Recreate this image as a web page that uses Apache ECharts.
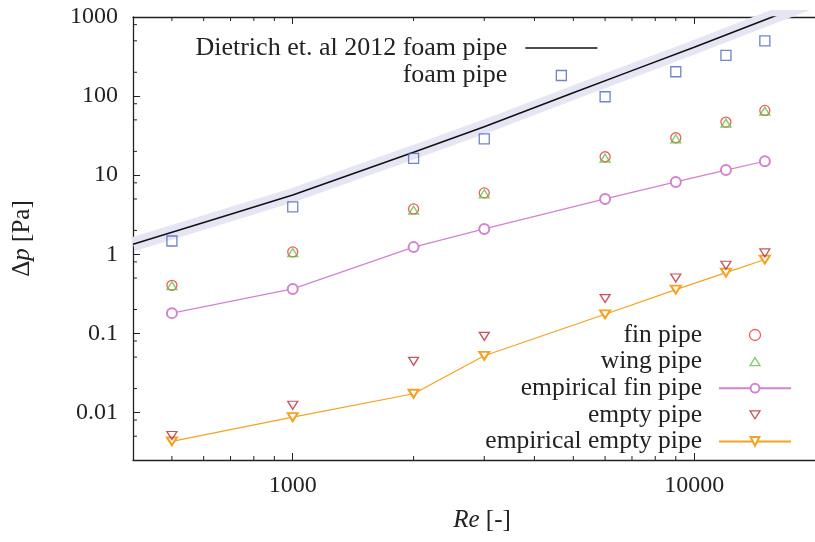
<!DOCTYPE html>
<html>
<head>
<meta charset="utf-8">
<script src="https://cdn.jsdelivr.net/npm/echarts@6/dist/echarts.min.js"></script>
<style>
  html, body { margin: 0; padding: 0; background: #fff; }
  #chart { width: 815px; height: 542px; }
</style>
</head>
<body>
<div id="chart"></div>
<script>
// Re values where the pipes were measured
const reValues = [500, 1000, 2000, 3000, 6000, 9000, 12000, 15000]

// pressure drop [Pa]
const foamPipe = [1.47, 3.97, 16.3, 28.8, 98, 203, 327, 500]
const finPipe = [0.405, 1.07, 3.74, 5.97, 17.1, 29.7, 46.9, 65.9]
const wingPipe = [0.40, 1.05, 3.6, 5.8, 16.4, 28.8, 45.5, 64.5]
const empiricalFin = [0.18, 0.364, 1.23, 2.09, 5.01, 8.22, 11.6, 15.0]
const emptyPipe = [0.0051, 0.0123, 0.0442, 0.0916, 0.275, 0.50, 0.726, 1.04]
const empiricalEmpty = [0.0043, 0.0087, 0.0172, 0.052, 0.174, 0.357, 0.586, 0.857]

// correlation curve
const dietrichRe = [400, 700, 1000, 2000, 3000, 5000, 7000, 10000, 15650, 20000]
const dietrich = [1.34, 3.2, 5.6, 19.5, 41, 110, 210, 415, 1000, 1610]

// minor tick positions
const xMinorTicks = [500, 600, 700, 800, 900, 2000, 3000, 4000, 5000, 6000, 7000, 8000, 9000]
const yMinorTicks = [0.005, 0.008, 0.02, 0.05, 0.08, 0.2, 0.5, 0.8, 2, 5, 8, 20, 50, 80, 200, 500, 800]

const FONT = 'Liberation Serif'
const AXIS_COLOR = '#222'
const X_MIN = 400, X_MAX = 20000, Y_MIN = 0.0025, Y_MAX = 1000

// legend glyphs (leading moves pin the icon box so the marker stays small)
const ICON_LINE = 'path://M0,0H72V1.5H0Z'
const ICON_SQUARE_TOP = 'path://M0,0M72,10M31,0H41V10H31Z'
const ICON_TRIANGLE = 'path://M0,0M72,11M36,1.5L41,9.5H31Z'
const ICON_TRIANGLE_DOWN = 'path://M0,0M72,11M31,1.5H41L36,9.5Z'

const pairs = (xs, ys) => xs.map((x, i) => [x, ys[i]])
const fmt = v => String(+(+v).toPrecision(3))

const chart = echarts.init(document.getElementById('chart'))

const hollow = (color) => ({ color: 'rgba(0,0,0,0)', borderColor: color, borderWidth: 1.3 })

const legendText = {
  fontFamily: FONT,
  fontSize: 25.5,
  color: '#222',
  lineHeight: 25,
  padding: [0, 11, 0, 0]
}

const option = {
  animation: false,
  backgroundColor: '#fff',
  grid: { left: 133, top: 17, right: -8, bottom: 82, containLabel: false },
  legend: [
    {
      data: [
        { name: 'Dietrich et. al 2012 foam pipe', icon: ICON_LINE },
        { name: 'foam pipe', icon: ICON_SQUARE_TOP }
      ],
      orient: 'vertical',
      align: 'right',
      right: 217,
      top: 35,
      padding: 0,
      itemWidth: 72,
      itemHeight: 10,
      itemGap: 1.5,
      itemStyle: { borderWidth: 1.3 },
      selectedMode: false,
      textStyle: Object.assign({}, legendText, { fontSize: 26, padding: [0, 13, 0, 0] })
    },
    {
      data: [
        'fin pipe',
        { name: 'wing pipe', icon: ICON_TRIANGLE },
        'empirical fin pipe',
        { name: 'empty pipe', icon: ICON_TRIANGLE_DOWN },
        'empirical empty pipe'
      ],
      orient: 'vertical',
      align: 'right',
      right: 23,
      top: 322,
      padding: 0,
      itemWidth: 72,
      itemHeight: 11,
      itemGap: 0.6,
      itemStyle: { borderWidth: 1.3 },
      selectedMode: false,
      textStyle: Object.assign({}, legendText, { padding: [0, 12, 0, 0] })
    }
  ],
  xAxis: [
    {
      type: 'log',
      min: X_MIN,
      max: X_MAX,
      name: '{i|Re} [-]',
      nameLocation: 'middle',
      nameGap: 48,
      nameTextStyle: {
        fontFamily: FONT, fontSize: 25, color: '#222', padding: [0, 0, 0, 16],
        rich: { i: { fontFamily: FONT, fontSize: 25, fontStyle: 'italic', color: '#222' } }
      },
      axisLine: { lineStyle: { color: AXIS_COLOR, width: 1.3 } },
      axisTick: { inside: true, length: 7, lineStyle: { color: AXIS_COLOR, width: 1 } },
      axisLabel: {
        fontFamily: FONT, fontSize: 24, color: '#222', margin: 14,
        showMinLabel: false, showMaxLabel: false,
        formatter: fmt
      },
      splitLine: { show: false },
      minorTick: { show: false }
    },
    {
      type: 'log',
      position: 'top',
      min: X_MIN,
      max: X_MAX,
      axisLine: { lineStyle: { color: AXIS_COLOR, width: 1.3 } },
      axisTick: { inside: true, length: 7, lineStyle: { color: AXIS_COLOR, width: 1 } },
      axisLabel: { show: false },
      splitLine: { show: false }
    }
  ],
  yAxis: {
    type: 'log',
    min: Y_MIN,
    max: Y_MAX,
    name: '{d|Δ}{i|p} [Pa]',
    nameLocation: 'middle',
    nameRotate: 90,
    nameGap: 98,
    nameTextStyle: {
      fontFamily: FONT, fontSize: 25, color: '#222',
      rich: {
        d: { fontFamily: FONT, fontSize: 25, color: '#222' },
        i: { fontFamily: FONT, fontSize: 25, fontStyle: 'italic', color: '#222' }
      }
    },
    axisLine: { lineStyle: { color: AXIS_COLOR, width: 1.3 } },
    axisTick: { inside: true, length: 7, lineStyle: { color: AXIS_COLOR, width: 1 } },
    axisLabel: {
      fontFamily: FONT, fontSize: 24, color: '#222', margin: 15,
      showMinLabel: false,
      formatter: fmt
    },
    splitLine: { show: false }
  },
  series: [
    {
      name: 'band',
      type: 'line',
      data: pairs(dietrichRe, dietrich),
      symbol: 'none',
      lineStyle: { color: '#e5e5f4', width: 14 },
      z: 1,
      silent: true
    },
    {
      name: 'Dietrich et. al 2012 foam pipe',
      type: 'line',
      data: pairs(dietrichRe, dietrich),
      symbol: 'none',
      color: '#111',
      lineStyle: { color: '#111', width: 1.5 },
      z: 2
    },
    {
      name: 'foam pipe',
      type: 'scatter',
      data: pairs(reValues, foamPipe),
      symbol: 'rect',
      symbolSize: 10,
      itemStyle: hollow('#4a66ba'),
      z: 4
    },
    {
      name: 'fin pipe',
      type: 'scatter',
      data: pairs(reValues, finPipe),
      symbol: 'circle',
      symbolSize: 10,
      itemStyle: hollow('#ee3535'),
      z: 4
    },
    {
      name: 'wing pipe',
      type: 'scatter',
      data: pairs(reValues, wingPipe),
      symbol: 'triangle',
      symbolSize: [10, 8],
      itemStyle: hollow('#5fbf45'),
      z: 4
    },
    {
      name: 'empirical fin pipe',
      type: 'line',
      data: pairs(reValues, empiricalFin),
      symbol: 'emptyCircle',
      symbolSize: 10,
      color: '#d283cd',
      lineStyle: { color: '#d283cd', width: 1.2 },
      itemStyle: { borderWidth: 1.2 },
      z: 3
    },
    {
      name: 'empty pipe',
      type: 'scatter',
      data: pairs(reValues, emptyPipe),
      symbol: 'triangle',
      symbolRotate: 180,
      symbolSize: [10, 8],
      itemStyle: hollow('#b52a36'),
      z: 4
    },
    {
      name: 'empirical empty pipe',
      type: 'line',
      data: pairs(reValues, empiricalEmpty),
      symbol: 'emptyTriangle',
      symbolRotate: 180,
      symbolSize: [10, 8],
      color: '#f4a223',
      lineStyle: { color: '#f4a223', width: 1.2 },
      itemStyle: { borderWidth: 1.2 },
      z: 3
    },
    {
      name: 'xMinor',
      type: 'custom',
      silent: true,
      data: xMinorTicks.map(v => [v, 1]),
      renderItem: (params, api) => {
        const cs = params.coordSys
        const x = api.coord([api.value(0), 1])[0]
        const style = { stroke: AXIS_COLOR, lineWidth: 1 }
        return {
          type: 'group',
          children: [
            { type: 'line', shape: { x1: x, y1: cs.y + cs.height, x2: x, y2: cs.y + cs.height - 4 }, style },
            { type: 'line', shape: { x1: x, y1: cs.y, x2: x, y2: cs.y + 4 }, style }
          ]
        }
      },
      z: 5
    },
    {
      name: 'yMinor',
      type: 'custom',
      silent: true,
      data: yMinorTicks.map(v => [1000, v]),
      renderItem: (params, api) => {
        const cs = params.coordSys
        const y = api.coord([1000, api.value(1)])[1]
        return {
          type: 'line',
          shape: { x1: cs.x, y1: y, x2: cs.x + 4, y2: y },
          style: { stroke: AXIS_COLOR, lineWidth: 1 }
        }
      },
      z: 5
    }
  ]
}

chart.setOption(option)
window.addEventListener('resize', () => chart.resize())
</script>
</body>
</html>
